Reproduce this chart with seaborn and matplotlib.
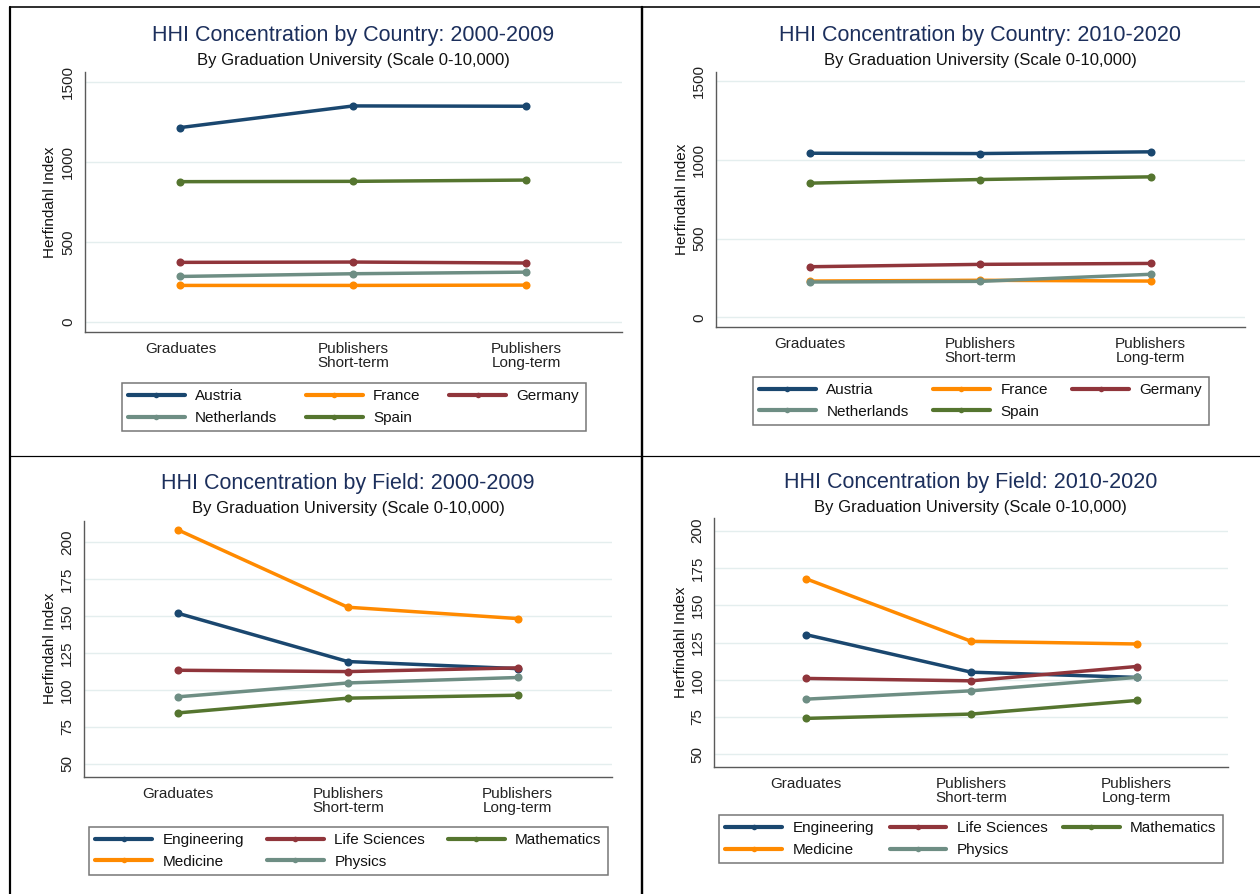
import numpy as np
import pandas as pd
import matplotlib
matplotlib.use("Agg")
import matplotlib.pyplot as plt
from matplotlib.lines import Line2D
import seaborn as sns

# ---- data -------------------------------------------------------------
stages = ["Graduates", "Publishers\nShort-term", "Publishers\nLong-term"]

countries = ["Austria", "France", "Germany", "Netherlands", "Spain"]
country_2000_2009 = [
    [1215, 1350, 1348],   # Austria
    [229, 229, 231],      # France
    [373, 375, 369],      # Germany
    [285, 302, 312],      # Netherlands
    [877, 879, 887],      # Spain
]
country_2010_2020 = [
    [1042, 1040, 1051],
    [230, 235, 230],
    [321, 336, 342],
    [224, 228, 273],
    [852, 875, 892],
]

fields = ["Engineering", "Life Sciences", "Mathematics", "Medicine", "Physics"]
field_2000_2009 = [
    [151.9, 119.2, 114.4],  # Engineering
    [113.3, 112.4, 114.9],  # Life Sciences
    [84.4, 94.4, 96.4],     # Mathematics
    [208.4, 156.0, 148.3],  # Medicine
    [95.3, 104.7, 108.4],   # Physics
]
field_2010_2020 = [
    [130.3, 105.1, 101.6],
    [100.9, 99.3, 108.9],
    [74.1, 77.0, 86.1],
    [167.8, 125.8, 124.0],
    [87.0, 92.6, 101.6],
]

country_ticks = [0, 500, 1000, 1500]
field_ticks = [50, 75, 100, 125, 150, 175, 200]

# ---- style ------------------------------------------------------------
NAVY, MAROON, GREEN, ORANGE, TEAL = "#1a476f", "#90353b", "#55752f", "#ff8a00", "#6e8e84"
country_colors = [NAVY, ORANGE, MAROON, TEAL, GREEN]
field_colors = [NAVY, MAROON, GREEN, ORANGE, TEAL]
TITLE_COLOR = "#1c2f5c"
AXIS_COLOR = "#5a5a5a"
GRID_COLOR = "#e4eeee"

sns.set_theme(style="white")
plt.rcParams["font.family"] = ["Liberation Sans", "DejaVu Sans"]

W, H = 1260, 894
fig = plt.figure(figsize=(W / 100, H / 100), dpi=100)
fig.patch.set_facecolor("white")


def fx(x):
    return x / W


def fy(y):
    return 1 - y / H


panels = [
    dict(title="HHI Concentration by Country: 2000-2009", names=countries,
         values=country_2000_2009, colors=country_colors, yticks=country_ticks,
         ylim=(-60, 1560), box=(84.5, 72.3, 622, 331.7), tcx=353, ty=35, sy=60,
         ylab_x=50, leg=(121.6, 383, 585.5, 432)),
    dict(title="HHI Concentration by Country: 2010-2020", names=countries,
         values=country_2010_2020, colors=country_colors, yticks=country_ticks,
         ylim=(-60, 1560), box=(715.5, 71.7, 1245, 326.7), tcx=980, ty=35, sy=60,
         ylab_x=681.5, leg=(752.7, 376.7, 1208.6, 425.7)),
    dict(title="HHI Concentration by Field: 2000-2009", names=fields,
         values=field_2000_2009, colors=field_colors, yticks=field_ticks,
         ylim=(41.2, 214.6), box=(83.6, 520.7, 612, 776.7), tcx=348, ty=483.3, sy=509,
         ylab_x=50, leg=(89, 826.7, 608, 875.7)),
    dict(title="HHI Concentration by Field: 2010-2020", names=fields,
         values=field_2010_2020, colors=field_colors, yticks=field_ticks,
         ylim=(41.7, 208.3), box=(714, 518.3, 1228.4, 766.7), tcx=970.8, ty=482.3, sy=507.3,
         ylab_x=680.7, leg=(719, 815, 1223, 863.3)),
]

legend_order = [0, 3, 1, 4, 2]  # row-wise reading across three columns

for p in panels:
    l, t, r, b = p["box"]
    ax = fig.add_axes([fx(l), fy(b), (r - l) / W, (b - t) / H])
    ax.set_facecolor("white")

    names = p["names"]
    df = pd.DataFrame({
        "stage": np.tile(np.arange(len(stages)), len(names)),
        "hhi": np.ravel(p["values"]),
        "group": np.repeat(names, len(stages)),
    })
    sns.lineplot(data=df, x="stage", y="hhi", hue="group", hue_order=names,
                 palette=p["colors"], marker="o", markersize=5.8, markeredgewidth=0,
                 linewidth=2.5, errorbar=None, sort=False, legend=False, ax=ax)

    ax.set_xlim(-0.555, 2.555)
    ax.set_ylim(*p["ylim"])
    ax.set_xticks(range(len(stages)), stages)
    ax.set_yticks(p["yticks"])
    ax.set_xlabel("")
    ax.set_ylabel("Herfindahl Index", fontsize=11, color="#111111")
    ax.yaxis.set_label_coords((p["ylab_x"] - l) / (r - l), 0.5)
    ax.yaxis.label.set_va("center")
    ax.yaxis.label.set_ha("center")

    ax.grid(axis="y", color=GRID_COLOR, linewidth=1.0)
    ax.grid(axis="x", visible=False)
    ax.set_axisbelow(True)
    for side in ("top", "right"):
        ax.spines[side].set_visible(False)
    for side in ("left", "bottom"):
        ax.spines[side].set_color(AXIS_COLOR)
        ax.spines[side].set_linewidth(1.0)

    ax.tick_params(axis="both", direction="out", length=3.8, width=0.9,
                   color=AXIS_COLOR, labelsize=11, labelcolor="#222222")
    ax.tick_params(axis="x", pad=3.5)
    ax.tick_params(axis="y", pad=3.0, labelrotation=90)
    for lbl in ax.get_yticklabels():
        lbl.set_va("center")
    for lbl in ax.get_xticklabels():
        lbl.set_linespacing(1.0)
        lbl.set_va("top")

    # titles
    fig.text(fx(p["tcx"]), fy(p["ty"]), p["title"], ha="center", va="center",
             fontsize=15.5, color=TITLE_COLOR)
    fig.text(fx(p["tcx"]), fy(p["sy"]), "By Graduation University (Scale 0-10,000)",
             ha="center", va="center", fontsize=12, color="#111111")

    # legend
    handles = [Line2D([], [], color=c, linewidth=3.0, marker="o", markersize=4,
                      markeredgewidth=0) for c in p["colors"]]
    lx0, ly0, lx1, ly1 = p["leg"]
    leg = ax.legend([handles[i] for i in legend_order], [names[i] for i in legend_order],
                    ncol=3, mode="expand", loc="upper left",
                    bbox_to_anchor=(fx(lx0), fy(ly0) - 1, fx(lx1) - fx(lx0), 1),
                    bbox_transform=fig.transFigure, fontsize=11, frameon=True,
                    fancybox=False, edgecolor="#555555", handlelength=3.7,
                    handletextpad=0.7, labelspacing=0.5, borderpad=0.42,
                    borderaxespad=0, columnspacing=1.5)
    leg.get_frame().set_linewidth(1.1)
    for txt in leg.get_texts():
        txt.set_color("#111111")

# panel frames
frame_lines = [
    ((10, 7), (1260, 7), 1.6),
    ((10, 7), (10, 894), 2.2),
    ((641.5, 7), (641.5, 894), 2.4),
    ((10, 455.5), (1260, 455.5), 1.2),
]
for (x0, y0), (x1, y1), lw in frame_lines:
    fig.add_artist(Line2D([fx(x0), fx(x1)], [fy(y0), fy(y1)], color="black",
                          linewidth=lw * 0.72, transform=fig.transFigure))

fig.savefig("out.png", dpi=100, facecolor="white")
